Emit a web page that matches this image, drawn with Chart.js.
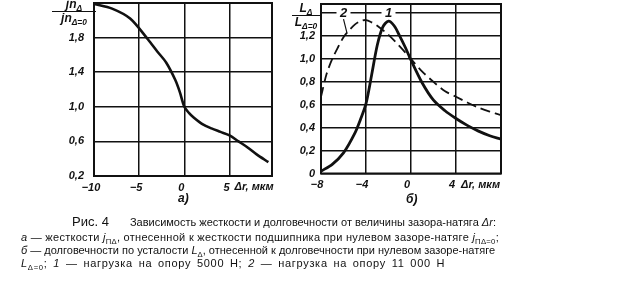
<!DOCTYPE html>
<html>
<head>
<meta charset="utf-8">
<script src="https://cdn.jsdelivr.net/npm/chart.js@4"></script>
<style>
  body { margin:0; width:623px; height:284px; position:relative; background:#fff; overflow:hidden;
         font-family:"Liberation Sans", Arial, sans-serif; color:#111; }
  .box { position:absolute; }
  .frac { position:absolute; font-style:italic; font-weight:bold; font-size:12px; text-align:center; line-height:13px; }
  .frac .num { border-bottom:1.5px solid #111; padding:0 2px; }
  .frac sub, .cap sub { font-size:0.7em; line-height:0; vertical-align:-0.35em; }
  .lbl { position:absolute; font-style:italic; font-weight:bold; font-size:12px; }
  .cap { position:absolute; white-space:nowrap; font-size:11px; }
  .fig { font-size:13px; margin-right:21px; }
</style>
</head>
<body>
<div class="box" style="left:0;top:0;width:300px;height:200px"><canvas id="ca"></canvas></div>
<div class="box" style="left:280px;top:0;width:343px;height:200px"><canvas id="cb"></canvas></div>

<div class="frac" style="left:52px;top:-2px;width:44px">
  <div class="num">jn<sub>Δ</sub></div>
  <div>jn<sub>Δ=0</sub></div>
</div>
<div class="frac" style="left:292px;top:2px;width:28px">
  <div class="num">L<sub>Δ</sub></div>
  <div>L<sub>Δ=0</sub></div>
</div>

<div class="lbl" style="left:178px;top:191px">а)</div>
<div class="lbl" style="left:406px;top:192px">б)</div>

<div class="cap" style="left:72px;top:214px"><span class="fig">Рис. 4</span>Зависимость жесткости и долговечности от величины зазора-натяга <i>Δr</i>:</div>
<div class="cap" style="left:21px;top:231px;letter-spacing:0.28px"><i>а</i> — жесткости <i>j</i><sub>ПΔ</sub>, отнесенной к жесткости подшипника при нулевом зазоре-натяге <i>j</i><sub>ПΔ=0</sub>;</div>
<div class="cap" style="left:21px;top:244px"><i>б</i> — долговечности по усталости <i>L</i><sub>Δ</sub>, отнесенной к долговечности при нулевом зазоре-натяге</div>
<div class="cap" style="left:21px;top:257px;letter-spacing:0.7px;word-spacing:2px"><i>L</i><sub>Δ=0</sub>; <i>1</i> — нагрузка на опору 5000 Н; <i>2</i> — нагрузка на опору 11 000 Н</div>

<script>
// а) жесткость
const stiffX = [-10, -8, -6, -4, -3, -2, -1, -0.5, 0, 0.5, 1, 2, 3, 4, 5, 6, 7, 8, 9.3];
const stiffY = [2.19, 2.135, 2.02, 1.775, 1.64, 1.51, 1.31, 1.17, 1.0, 0.93, 0.88, 0.80, 0.75, 0.71, 0.67, 0.60, 0.53, 0.45, 0.36];
const leftXTicks = [-10, -5, 0, 5];
const leftXLabels = ['−10', '−5', '0', '5'];
const leftYTicks = [0.2, 0.6, 1.0, 1.4, 1.8];
const leftYLabels = ['0,2', '0,6', '1,0', '1,4', '1,8'];

// б) долговечность: 1 — 5000 Н, 2 — 11 000 Н
const load1X = [-8, -7, -6, -5, -4.5, -4, -3.5, -3, -2.5, -2, -1.5, -1, -0.5, 0, 1, 2, 3, 4, 5, 6, 7, 8];
const load1Y = [0.02, 0.08, 0.18, 0.35, 0.47, 0.61, 0.86, 1.12, 1.28, 1.33, 1.29, 1.2, 1.1, 0.99, 0.79, 0.64, 0.55, 0.48, 0.42, 0.37, 0.33, 0.30];
const load2X = [-8, -7.5, -7, -6.5, -6, -5.5, -5, -4.5, -4, -3.5, -3, -2, -1, 0, 1, 2, 3, 4, 5, 6, 7, 8];
const load2Y = [0.67, 0.87, 1.0, 1.1, 1.19, 1.25, 1.30, 1.33, 1.34, 1.32, 1.29, 1.21, 1.11, 1.0, 0.89, 0.80, 0.72, 0.67, 0.62, 0.575, 0.54, 0.51];
const rightXTicks = [-8, -4, 0, 4];
const rightXLabels = ['−8', '−4', '0', '4'];
const rightYTicks = [0, 0.2, 0.4, 0.6, 0.8, 1.0, 1.2, 1.4];
const rightYLabels = ['0', '0,2', '0,4', '0,6', '0,8', '1,0', '1,2', ''];

const axisTitle = 'Δr, мкм';
const ink = '#111';
const tickFont = { family: 'Liberation Sans', style: 'italic', weight: 'bold', size: 11 };

const pts = (xs, ys) => xs.map((x, i) => ({ x, y: ys[i] }));

// frame + "Δr, мкм" after the last labelled tick + curve labels
const extras = (titleAfter, notes) => ({
  id: 'extras',
  afterDraw(chart) {
    const { ctx, chartArea: a, scales: { x, y } } = chart;
    ctx.save();
    ctx.strokeStyle = ink;
    ctx.lineWidth = 2;
    ctx.strokeRect(a.left, a.top, a.right - a.left, a.bottom - a.top);
    ctx.fillStyle = ink;
    ctx.font = 'italic bold 11px "Liberation Sans"';
    ctx.textBaseline = 'middle';
    ctx.fillText(axisTitle, x.getPixelForValue(titleAfter) + 5, a.bottom + 11);
    (notes || []).forEach(n => {
      const px = x.getPixelForValue(n.x), py = y.getPixelForValue(n.y);
      ctx.fillStyle = '#fff';
      ctx.fillRect(px - 7, py - 5, 14, 10);
      ctx.fillStyle = ink;
      ctx.font = 'italic bold 13px "Liberation Sans"';
      ctx.textAlign = 'center';
      ctx.fillText(n.text, px, py);
      if (n.to) {
        ctx.lineWidth = 1.2;
        ctx.beginPath();
        ctx.moveTo(px, py + 6);
        ctx.lineTo(x.getPixelForValue(n.to[0]), y.getPixelForValue(n.to[1]));
        ctx.stroke();
      }
    });
    ctx.restore();
  }
});

function axis(min, max, ticks, labels, fit, pad, offset) {
  return {
    type: 'linear', min, max,
    afterBuildTicks: s => { s.ticks = ticks.map(v => ({ value: v })); },
    afterFit: s => {
      fit(s);
      s.paddingTop = s.paddingBottom = s.paddingLeft = s.paddingRight = 0;
    },
    grid: { color: ink, lineWidth: 1.5, drawTicks: false },
    border: { display: false },
    ticks: {
      color: ink, font: tickFont, padding: pad, labelOffset: offset || 0,
      autoSkip: false, maxRotation: 0,
      callback: (v, i) => labels[i]
    }
  };
}

const base = {
  responsive: true,
  maintainAspectRatio: false,
  animation: false,
  plugins: { legend: { display: false }, tooltip: { enabled: false } }
};

new Chart(document.getElementById('ca'), {
  type: 'scatter',
  data: {
    datasets: [{
      data: pts(stiffX, stiffY),
      showLine: true, pointRadius: 0, borderColor: ink, borderWidth: 2.6, tension: 0.3
    }]
  },
  options: {
    ...base,
    layout: { padding: { top: 3, right: 28, left: 0, bottom: 0 } },
    scales: {
      x: axis(-10, 9.7, leftXTicks, leftXLabels, s => { s.height = 24; }, 5, -3),
      y: axis(0.2, 2.2, leftYTicks, leftYLabels, s => { s.width = 94; }, 10)
    }
  },
  plugins: [extras(5)]
});

new Chart(document.getElementById('cb'), {
  type: 'scatter',
  data: {
    datasets: [
      {
        data: pts(load1X, load1Y),
        showLine: true, pointRadius: 0, borderColor: ink, borderWidth: 2.8, tension: 0.3
      },
      {
        data: pts(load2X, load2Y),
        showLine: true, pointRadius: 0, borderColor: ink, borderWidth: 1.8,
        borderDash: [10, 5], tension: 0.3
      }
    ]
  },
  options: {
    ...base,
    layout: { padding: { top: 4, right: 122, left: 0, bottom: 0 } },
    scales: {
      x: axis(-8, 8, rightXTicks, rightXLabels, s => { s.height = 26.5; }, 5, -4),
      y: axis(0, 1.48, rightYTicks, rightYLabels, s => { s.width = 41; }, 6)
    }
  },
  plugins: [extras(4, [
    { text: '2', x: -6.0, y: 1.4, to: [-5.7, 1.23] },
    { text: '1', x: -2.0, y: 1.4 }
  ])]
});
</script>
</body>
</html>
